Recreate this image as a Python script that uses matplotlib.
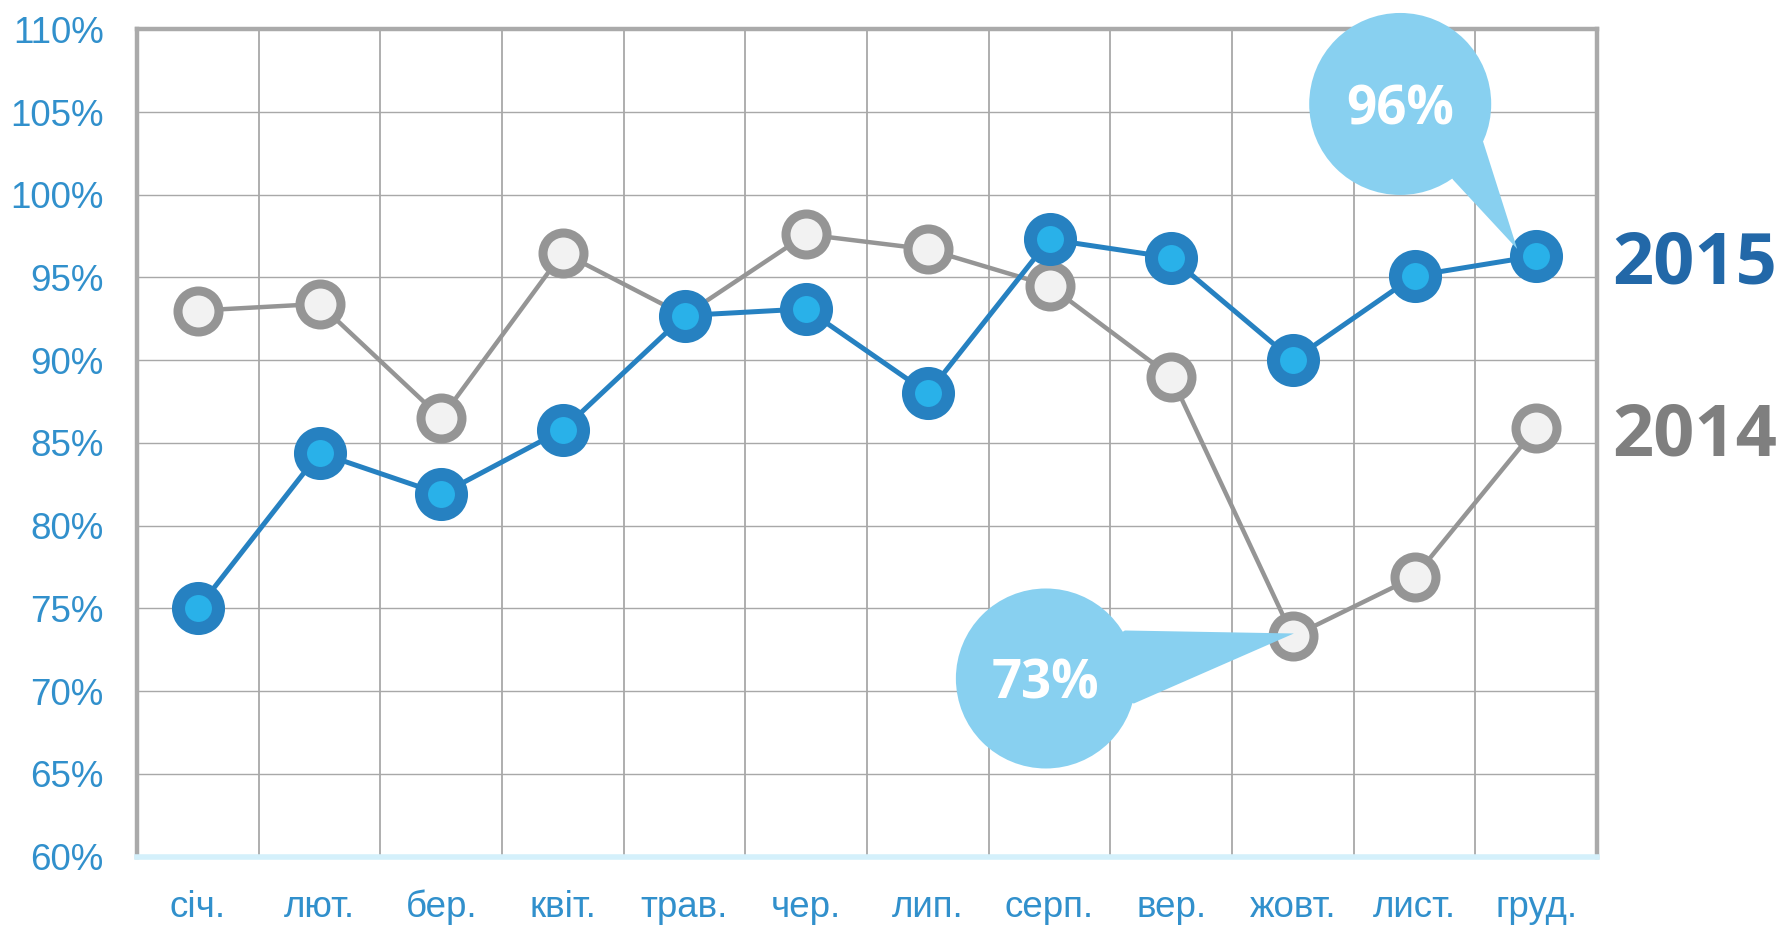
import matplotlib
matplotlib.use("Agg")
import matplotlib.pyplot as plt
import matplotlib.transforms as mtransforms
from matplotlib.patches import Circle, Polygon
import numpy as np

# data
months = ['січ.', 'лют.', 'бер.', 'квіт.', 'трав.', 'чер.',
          'лип.', 'серп.', 'вер.', 'жовт.', 'лист.', 'груд.']
y2014 = [93.0, 93.4, 86.5, 96.5, 92.7, 97.6, 96.7, 94.5, 89.0, 73.3, 76.9, 85.9]
y2015 = [75.0, 84.4, 81.9, 85.8, 92.7, 93.1, 88.0, 97.3, 96.2, 90.0, 95.1, 96.3]
yticks = list(range(60, 111, 5))

# colours
BLUE_LINE = '#2681c1'
BLUE_FILL = '#29b1e9'
GREY_LINE = '#959595'
GREY_FILL = '#f2f2f2'
LABEL = '#3190cc'
BUBBLE = '#88d0f0'

plt.rcParams['font.family'] = ['Liberation Sans', 'DejaVu Sans']

fig = plt.figure(figsize=(17.87, 9.30), dpi=100)
ax = fig.add_axes([0.0767, 0.0790, 0.8170, 0.8895])

x = np.arange(len(months))

ax.plot(x, y2014, color=GREY_LINE, lw=3.2, marker='o', ms=29.5,
        mfc=GREY_FILL, mec=GREY_LINE, mew=6.5, zorder=4)
ax.plot(x, y2015, color=BLUE_LINE, lw=3.6, marker='o', ms=28.8,
        mfc=BLUE_FILL, mec=BLUE_LINE, mew=9.4, zorder=5)

ax.set_xlim(-0.5, len(months) - 0.5)
ax.set_ylim(60, 110)
ax.set_yticks(yticks)
ax.set_yticklabels([f'{t}%' for t in yticks])
ax.set_xticks(x)
ax.set_xticklabels(months)
ax.set_xticks(np.arange(-0.5, len(months), 1), minor=True)
ax.tick_params(axis='both', which='both', length=0, labelsize=26.5, labelcolor=LABEL)
ax.tick_params(axis='y', pad=24)
ax.tick_params(axis='x', pad=24)

ax.grid(axis='y', which='major', color='#a8a8a8', lw=1.0, zorder=1)
ax.grid(axis='x', which='minor', color='#999999', lw=1.1, zorder=1)

for side in ['left', 'top', 'right']:
    ax.spines[side].set_color('#aaaaaa')
    ax.spines[side].set_linewidth(3.2)
ax.spines['bottom'].set_color('#d4f0fb')
ax.spines['bottom'].set_linewidth(4)

# year labels next to the last points
ax.annotate('2015', xy=(1, y2015[-1]), xycoords=('axes fraction', 'data'),
            xytext=(11, 0), textcoords='offset points', ha='left', va='center_baseline',
            fontsize=52, fontweight='bold', family='Open Sans', color='#2268a8')
ax.annotate('2014', xy=(1, y2014[-1]), xycoords=('axes fraction', 'data'),
            xytext=(11, 0), textcoords='offset points', ha='left', va='center_baseline',
            fontsize=52, fontweight='bold', family='Open Sans', color='#7f7f7f')


def bubble(xi, yi, center, radius, base1, base2, tip):
    # geometry in inches, offset from the data point
    tr = fig.dpi_scale_trans + mtransforms.ScaledTranslation(xi, yi, ax.transData)
    ax.add_patch(Circle(center, radius, transform=tr, fc=BUBBLE, ec='none',
                        zorder=10, clip_on=False))
    ax.add_patch(Polygon([center, base1, tip, base2], closed=True, transform=tr,
                         fc=BUBBLE, ec='none', zorder=10, clip_on=False))
    ax.text(center[0], center[1], f'{round(yi)}%', transform=tr, ha='center',
            va='center_baseline', fontsize=38, fontweight='bold', family='Open Sans',
            color='white', zorder=11)


bubble(11, y2015[11], (-1.36, 1.52), 0.91, (-0.53, 1.14), (-0.83, 0.76), (-0.19, 0.07))
bubble(9, y2014[9], (-2.47, -0.42), 0.90, (-1.68, 0.06), (-1.59, -0.67), (0.01, 0.03))

fig.savefig('out.png', dpi=100)
